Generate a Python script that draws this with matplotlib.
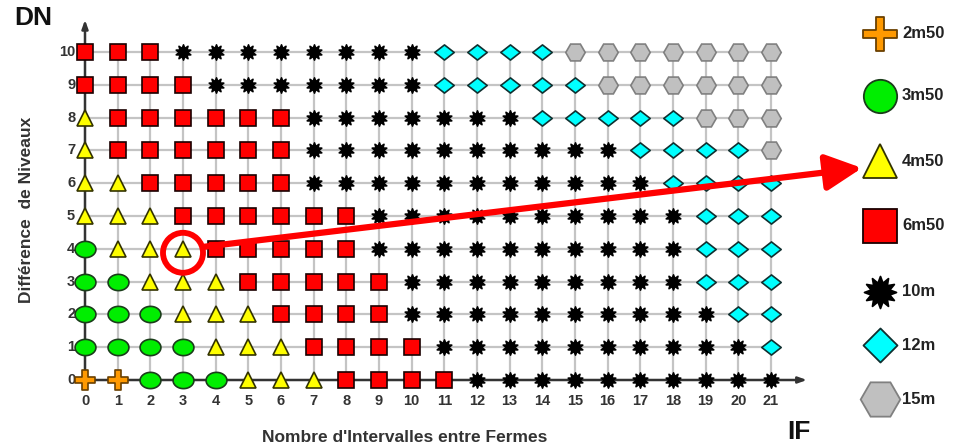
import numpy as np
import matplotlib
matplotlib.use("Agg")
import matplotlib.pyplot as plt
from matplotlib.path import Path
from matplotlib.patches import Ellipse, FancyArrowPatch

plt.rcParams['font.family'] = ['Liberation Sans', 'DejaVu Sans']

# ---- data -------------------------------------------------------------
x_ticks = list(range(0, 22))
y_ticks = list(range(0, 11))
# one string per DN row (0..10), one char per IF column (0..21)
grid_rows = {
    10: "SSS********DDDDHHHHHHH",
    9:  "SSSS*******DDDDDHHHHHH",
    8:  "TSSSSSS*******DDDDDHHH",
    7:  "TSSSSSS**********DDDDH",
    6:  "TTSSSSS***********DDDD",
    5:  "TTTSSSSSS**********DDD",
    4:  "CTTTSSSSS**********DDD",
    3:  "CCTTTSSSSS*********DDD",
    2:  "CCCTTTSSSS**********DD",
    1:  "CCCCTTTSSSS**********D",
    0:  "PPCCCTTTSSSS**********",
}
codes = ["P", "C", "T", "S", "*", "D", "H"]
labels = ["2m50", "3m50", "4m50", "6m50", "10m", "12m", "15m"]
highlight = (3, 4)
x_label = "Nombre d'Intervalles entre Fermes"
y_label = "Différence  de Niveaux"

# ---- marker styles ------------------------------------------------------
def star_path(n=10, r_in=0.55):
    ang = np.linspace(0, 2 * np.pi, 2 * n, endpoint=False) + np.pi / 2
    r = np.where(np.arange(2 * n) % 2 == 0, 1.0, r_in)
    v = np.column_stack([r * np.cos(ang), r * np.sin(ang)])
    v = np.vstack([v, v[:1]])
    return Path(v, closed=True)

def plus_path(w=0.3):
    v = np.array([[-w, 1], [w, 1], [w, w], [1, w], [1, -w], [w, -w], [w, -1],
                  [-w, -1], [-w, -w], [-1, -w], [-1, w], [-w, w], [-w, 1]])
    return Path(v, closed=True)

t = np.linspace(0, 2 * np.pi, 60)
ellipse_path = Path(np.column_stack([np.cos(t), 0.78 * np.sin(t)]), closed=True)
diamond_path = Path(np.array([[0, 0.78], [1, 0], [0, -0.78], [-1, 0], [0, 0.78]]), closed=True)
diamond_sq = Path(np.array([[0, 1], [1, 0], [0, -1], [-1, 0], [0, 1]]), closed=True)

styles = {
    "P": dict(marker=plus_path(), lmarker=plus_path(0.24), color="#FF9900", mec="#6a4000", ms=14, lms=25),
    "C": dict(marker=ellipse_path, lmarker="o", color="#00EE00", mec="#1a3d1a", ms=15, lms=24),
    "T": dict(marker="^", lmarker="^", color="#FFFF00", mec="#333300", ms=12, lms=24.5),
    "S": dict(marker="s", lmarker="s", color="#FF0000", mec="#1a0000", ms=12, lms=24),
    "*": dict(marker=star_path(), lmarker=star_path(12, 0.6), color="#000000", mec="#000000", ms=11, lms=23),
    "D": dict(marker=diamond_path, lmarker=diamond_sq, color="#00FFFF", mec="#103030", ms=14, lms=24.5),
    "H": dict(marker="H", lmarker="H", color="#C0C0C0", mec="#808080", ms=14, lms=28.5),
}

# ---- figure -------------------------------------------------------------
W, H = 959, 448
fig = plt.figure(figsize=(W / 100, H / 100), dpi=100)

px0, px21 = 85, 771
py0, py10 = 380, 52
sx = (px21 - px0) / 21
sy = (py0 - py10) / 10
L, R, T, B = 55, 830, 12, 398
ax = fig.add_axes([L / W, 1 - B / H, (R - L) / W, (B - T) / H])
ax.set_xlim((L - px0) / sx, (R - px0) / sx)
ax.set_ylim((py0 - B) / sy, (py0 - T) / sy)
ax.axis("off")

xmax, ymax = max(x_ticks), max(y_ticks)
# grid
for xv in x_ticks[1:]:
    ax.plot([xv, xv], [0, ymax], color="#c4c4c4", lw=1.6, zorder=1)
for yv in y_ticks[1:]:
    ax.plot([0, xmax], [yv, yv], color="#c4c4c4", lw=1.6, zorder=1)
# axes with arrows
ax.annotate("", xy=(xmax + 1.1, 0), xytext=(-0.05, 0),
            arrowprops=dict(arrowstyle="-|>,head_length=0.5,head_width=0.18",
                            color="#333333", lw=1.8, shrinkA=0, shrinkB=0), zorder=2)
ax.annotate("", xy=(0, ymax + 0.98), xytext=(0, -0.05),
            arrowprops=dict(arrowstyle="-|>,head_length=0.5,head_width=0.18",
                            color="#333333", lw=1.8, shrinkA=0, shrinkB=0), zorder=2)

# tick labels
for xv in x_ticks:
    ax.text(xv, -0.64, str(xv), ha="center", va="center", fontsize=10.5,
            fontweight="bold", color="#333333")
for yv in y_ticks:
    ax.text(-0.3, yv, str(yv), ha="right", va="center", fontsize=10.5,
            fontweight="bold", color="#333333")

# markers
for code in codes:
    xs, ys = [], []
    for yv, row in grid_rows.items():
        for xv, c in enumerate(row):
            if c == code:
                xs.append(xv)
                ys.append(yv)
    st = styles[code]
    ax.plot(xs, ys, ls="none", marker=st["marker"], ms=st["ms"], mfc=st["color"],
            mec=st["mec"], mew=1.2, zorder=3, clip_on=False)

# overlay in pixel coordinates for annotations and legend
ov = fig.add_axes([0, 0, 1, 1])
ov.set_xlim(0, W)
ov.set_ylim(H, 0)
ov.axis("off")
ov.patch.set_alpha(0)

# texts
ov.text(14, 18, "DN", fontsize=19, fontweight="bold", ha="left", va="center", color="#111111")
ov.text(799, 432, "IF", fontsize=19, fontweight="bold", ha="center", va="center", color="#111111")
ov.text(405, 437, x_label, fontsize=12.5, fontweight="bold", ha="center", va="center", color="#333333")
ov.text(27, 210, y_label, fontsize=12.5, fontweight="bold", ha="center", va="center",
        rotation=90, color="#333333")

# highlight circle + arrow
disp = ax.transData.transform(highlight)
cx, cy = ov.transData.inverted().transform(disp)
cy += 4
ov.add_patch(Ellipse((cx, cy), 40, 40, fill=False, ec="#FF0000", lw=4.2, zorder=5))
tip = (862, 168)
start = (cx + 21, cy - 6)
ov.add_patch(FancyArrowPatch(start, tip, arrowstyle="-|>,head_length=22,head_width=11",
                             mutation_scale=1, color="#FF0000", lw=4.5,
                             shrinkA=0, shrinkB=0, zorder=5))

# legend
leg_y = [34, 96, 161, 226, 292, 345, 399]
leg_x = 880
for code, lab, ly in zip(codes, labels, leg_y):
    st = styles[code]
    ov.plot([leg_x], [ly], ls="none", marker=st["lmarker"], ms=st["lms"], mfc=st["color"],
            mec=st["mec"], mew=1.3, zorder=4)
    ov.text(leg_x + 22, ly, lab, fontsize=12, fontweight="bold", ha="left", va="center",
            color="#222222")

fig.savefig("out.png", dpi=100)
